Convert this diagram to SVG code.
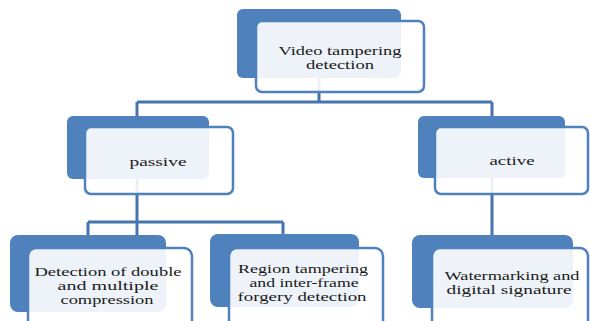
<svg xmlns="http://www.w3.org/2000/svg" width="590" height="321" viewBox="0 0 590 321">
<style>
.back{fill:#4F81BD}
.front{fill:#FFFFFF;fill-opacity:0.9;stroke:#4F81BD;stroke-width:2.5}
.conn{fill:none;stroke:#4575B0;stroke-width:3}
.t{font-family:'Liberation Serif','DejaVu Serif','Times New Roman',serif;font-size:12.5px;fill:#1a1a1a;text-anchor:middle}
</style>
<rect width="590" height="321" fill="#FFFFFF"/>
<g id="connectors">
<path class="conn" d="M319,50 V102 M137,102 H492 M137,102 V240 M88,222 H283 M88,222 V240 M283,222 V240 M492,102 V240"/>
</g>
<g id="root">
<rect class="back" x="237" y="9" width="164" height="69" rx="6"/>
<rect class="front" x="256" y="21" width="168" height="71" rx="6"/>
<text class="t" x="340" y="55" textLength="123" lengthAdjust="spacingAndGlyphs">Video tampering</text>
<text class="t" x="340" y="69" textLength="68" lengthAdjust="spacingAndGlyphs">detection</text>
</g>
<g id="passive">
<rect class="back" x="67" y="116" width="142" height="63" rx="6"/>
<rect class="front" x="85" y="127" width="148" height="67" rx="6"/>
<text class="t" x="158" y="166" textLength="57" lengthAdjust="spacingAndGlyphs">passive</text>
</g>
<g id="active">
<rect class="back" x="418" y="116" width="147" height="62" rx="6"/>
<rect class="front" x="435" y="127" width="153" height="67" rx="6"/>
<text class="t" x="512" y="165" textLength="45" lengthAdjust="spacingAndGlyphs">active</text>
</g>
<g id="double-compression">
<rect class="back" x="10" y="235" width="156" height="77" rx="8"/>
<rect class="front" x="28" y="248" width="164" height="82" rx="8"/>
<text class="t" x="108" y="276" textLength="147" lengthAdjust="spacingAndGlyphs">Detection of double</text>
<text class="t" x="108" y="290" textLength="101" lengthAdjust="spacingAndGlyphs">and multiple</text>
<text class="t" x="107" y="304" textLength="93" lengthAdjust="spacingAndGlyphs">compression</text>
</g>
<g id="region-tampering">
<rect class="back" x="210" y="234" width="149" height="73" rx="8"/>
<rect class="front" x="229" y="248" width="154" height="82" rx="8"/>
<text class="t" x="303" y="273" textLength="130" lengthAdjust="spacingAndGlyphs">Region tampering</text>
<text class="t" x="304" y="287" textLength="109" lengthAdjust="spacingAndGlyphs">and inter-frame</text>
<text class="t" x="302" y="301" textLength="129" lengthAdjust="spacingAndGlyphs">forgery detection</text>
</g>
<g id="watermarking">
<rect class="back" x="412" y="235" width="161" height="73" rx="8"/>
<rect class="front" x="432" y="248" width="156" height="82" rx="8"/>
<text class="t" x="512" y="280" textLength="135" lengthAdjust="spacingAndGlyphs">Watermarking and</text>
<text class="t" x="509" y="294" textLength="125" lengthAdjust="spacingAndGlyphs">digital signature</text>
</g>
</svg>
